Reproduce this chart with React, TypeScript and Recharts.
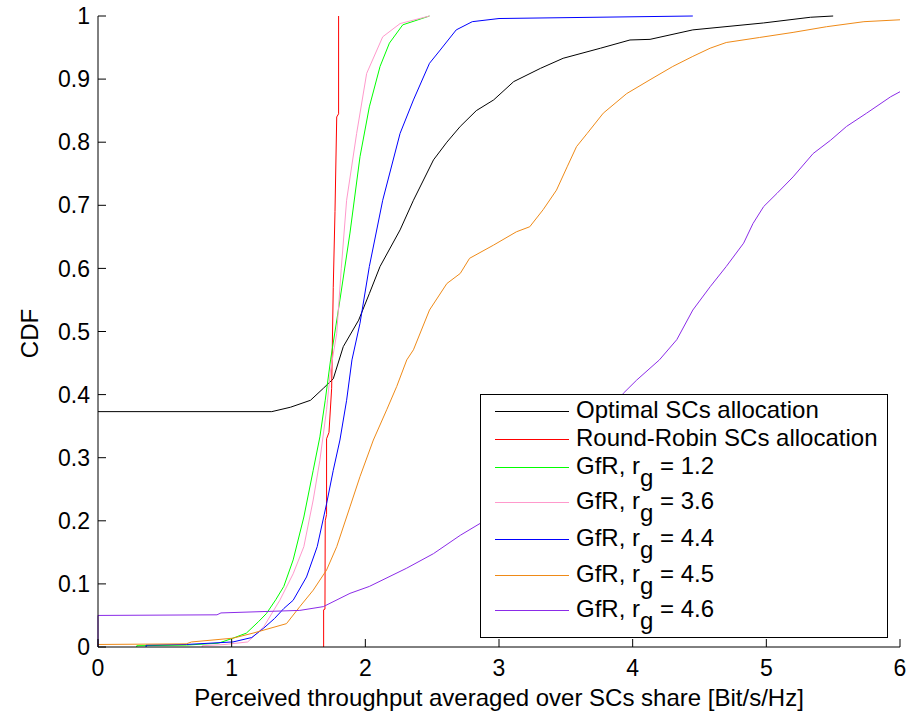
import { LineChart, Line, XAxis, YAxis, Legend } from 'recharts'

const FONT = '"Liberation Sans", Arial, Helvetica, sans-serif'

const xTicks = [0, 1, 2, 3, 4, 5, 6]
const yTicks = [0, 0.1, 0.2, 0.3, 0.4, 0.5, 0.6, 0.7, 0.8, 0.9, 1]

// [throughput, CDF] pairs
const optimal = [
  [0, 0.373], [1.3, 0.373], [1.44, 0.38], [1.59, 0.391], [1.686, 0.41], [1.76, 0.425], [1.835, 0.476],
  [1.95, 0.518], [2.03, 0.56], [2.11, 0.603], [2.26, 0.661], [2.36, 0.708], [2.51, 0.772], [2.61, 0.8],
  [2.71, 0.825], [2.83, 0.85], [2.96, 0.867], [3.11, 0.896], [3.31, 0.917], [3.48, 0.933], [3.76, 0.949],
  [3.98, 0.962], [4.13, 0.963], [4.45, 0.978], [4.98, 0.989], [5.33, 0.998], [5.5, 1],
]
const roundRobin = [
  [1.688, 0], [1.688, 0.059], [1.698, 0.06], [1.7, 0.2], [1.71, 0.21], [1.71, 0.33], [1.728, 0.34],
  [1.748, 0.41], [1.76, 0.57], [1.773, 0.69], [1.786, 0.84], [1.8, 0.845], [1.8, 1],
]
const gfr12 = [
  [0.29, 0], [0.29, 0.002], [0.66, 0.003], [0.9, 0.006], [1.01, 0.014], [1.11, 0.022], [1.2, 0.04],
  [1.26, 0.053], [1.33, 0.075], [1.39, 0.096], [1.46, 0.138], [1.54, 0.206], [1.61, 0.28], [1.66, 0.333],
  [1.7, 0.391], [1.74, 0.455], [1.81, 0.55], [1.885, 0.656], [1.96, 0.777], [2.03, 0.856], [2.11, 0.92],
  [2.18, 0.957], [2.28, 0.986], [2.48, 1],
]
const gfr36 = [
  [0.78, 0], [0.78, 0.002], [0.95, 0.004], [1.12, 0.008], [1.24, 0.032], [1.36, 0.074], [1.46, 0.116],
  [1.54, 0.159], [1.61, 0.233], [1.66, 0.296], [1.71, 0.376], [1.74, 0.439], [1.786, 0.497], [1.82, 0.6],
  [1.86, 0.708], [1.935, 0.814], [2.01, 0.909], [2.13, 0.967], [2.26, 0.988], [2.48, 1],
]
const gfr44 = [
  [0.36, 0], [0.36, 0.003], [0.66, 0.004], [1.01, 0.008], [1.15, 0.015], [1.24, 0.03], [1.32, 0.045],
  [1.39, 0.061], [1.46, 0.074], [1.56, 0.111], [1.64, 0.159], [1.71, 0.227], [1.76, 0.28], [1.81, 0.328],
  [1.86, 0.391], [1.9, 0.455], [1.96, 0.513], [2.03, 0.603], [2.13, 0.708], [2.26, 0.814], [2.36, 0.867],
  [2.48, 0.925], [2.56, 0.946], [2.68, 0.978], [2.8, 0.991], [3.0, 0.996], [4.45, 1],
]
const gfr45 = [
  [0, 0.004], [0.66, 0.005], [0.7, 0.008], [1.01, 0.014], [1.16, 0.022], [1.41, 0.037], [1.51, 0.064],
  [1.61, 0.09], [1.71, 0.122], [1.786, 0.159], [1.885, 0.222], [1.96, 0.27], [2.06, 0.328], [2.16, 0.376],
  [2.235, 0.413], [2.31, 0.455], [2.36, 0.471], [2.48, 0.534], [2.61, 0.576], [2.71, 0.592], [2.78, 0.616],
  [2.96, 0.637], [3.13, 0.658], [3.23, 0.666], [3.33, 0.693], [3.43, 0.724], [3.51, 0.761], [3.58, 0.793],
  [3.66, 0.814], [3.78, 0.846], [3.955, 0.877], [4.13, 0.899], [4.3, 0.92], [4.45, 0.936], [4.58, 0.949],
  [4.7, 0.958], [4.95, 0.966], [5.2, 0.974], [5.45, 0.983], [5.73, 0.991], [6.0, 0.994],
]
const gfr46 = [
  [0, 0], [0, 0.05], [0.89, 0.051], [0.92, 0.054], [1.51, 0.058], [1.686, 0.064], [1.885, 0.085],
  [2.03, 0.096], [2.31, 0.125], [2.51, 0.148], [2.71, 0.177], [2.86, 0.196], [3.2, 0.245], [3.5, 0.3],
  [3.75, 0.36], [3.93, 0.402], [4.03, 0.423], [4.2, 0.455], [4.33, 0.487], [4.45, 0.534], [4.58, 0.571],
  [4.7, 0.603], [4.83, 0.64], [4.9, 0.671], [4.98, 0.698], [5.08, 0.719], [5.2, 0.745], [5.35, 0.782],
  [5.48, 0.803], [5.6, 0.825], [5.75, 0.846], [5.93, 0.872], [6.0, 0.88],
]

const seriesData = [optimal, roundRobin, gfr12, gfr36, gfr44, gfr45, gfr46]
const names = [
  'Optimal SCs allocation', 'Round-Robin SCs allocation',
  'GfR, r_g = 1.2', 'GfR, r_g = 3.6', 'GfR, r_g = 4.4', 'GfR, r_g = 4.5', 'GfR, r_g = 4.6',
]
const colors = ['#000000', '#ff0000', '#00ff00', '#ff99cc', '#0000ff', '#ef8a17', '#8b2be8']

// vertical centre of each legend row, px from legend top
const rowMid = [15, 42.5, 71, 106, 142.5, 179, 214]

function LegendBox(props: any) {
  const payload = props.payload || []
  return (
    <div style={{
      position: 'relative', width: '100%', height: '100%', background: '#fff',
      border: '1.5px solid #000', boxSizing: 'border-box', fontFamily: FONT, fontSize: 24, color: '#000',
    }}>
      {payload.map((p: any) => {
        const i = names.indexOf(p.value)
        const [pre, post] = String(p.value).split('_g')
        return (
          <div key={p.value} style={{ position: 'absolute', left: 0, top: Math.round(rowMid[i] - 14), height: 28, lineHeight: '28px', whiteSpace: 'nowrap' }}>
            <svg width={80} height={28} style={{ position: 'absolute', left: 10, top: 0 }}>
              <line x1={4} x2={78} y1={15.5} y2={15.5} stroke={colors[i]} strokeWidth={1.2} />
            </svg>
            <span style={{ position: 'absolute', left: 95 }}>
              {pre}
              {post !== undefined && <span style={{ position: 'relative', top: 12 }}>g</span>}
              {post}
            </span>
          </div>
        )
      })}
    </div>
  )
}

const tickStyle = { fontFamily: FONT, fontSize: 23, fill: '#000' }

export default function App() {
  return (
    <div style={{ position: 'absolute', left: 0, top: 0, width: 916, height: 712, background: '#fff' }}>
      <LineChart width={916} height={712} margin={{ top: 16, right: 16, bottom: 0, left: 0 }}>
        <XAxis
          dataKey="x" type="number" domain={[0, 6]} ticks={xTicks} interval={0}
          height={65} tickSize={-8} tickMargin={21} stroke="#000" tick={tickStyle}
          tickLine={{ stroke: '#000' }} axisLine={{ stroke: '#000' }}
          label={{ value: 'Perceived throughput averaged over SCs share [Bit/s/Hz]', position: 'insideBottom', offset: 6, style: { fontFamily: FONT, fontSize: 24, fill: '#000' } }}
        />
        <XAxis
          xAxisId="top" orientation="top" type="number" domain={[0, 6]} ticks={xTicks} interval={0}
          height={0} tickSize={-8} tick={false} stroke="#000" axisLine={{ stroke: '#000' }}
        />
        <YAxis
          dataKey="y" type="number" domain={[0, 1]} ticks={yTicks} interval={0}
          width={98} tickSize={-8} tickMargin={16} stroke="#000" tick={tickStyle}
          tickLine={{ stroke: '#000' }} axisLine={{ stroke: '#000' }}
          label={(p: any) => (
            <text
              x={38} y={p.viewBox ? p.viewBox.y + p.viewBox.height / 2 + 2 : 333}
              transform={`rotate(-90, 38, ${p.viewBox ? p.viewBox.y + p.viewBox.height / 2 + 2 : 333})`}
              textAnchor="middle" style={{ fontFamily: FONT, fontSize: 24, fill: '#000' }}
            >CDF</text>
          )}
        />
        <YAxis
          yAxisId="right" orientation="right" type="number" domain={[0, 1]} ticks={yTicks} interval={0}
          width={0} tickSize={-8} tick={false} stroke="#000" axisLine={{ stroke: '#000' }}
        />
        {seriesData.map((pts, i) => (
          <Line
            key={names[i]}
            name={names[i]}
            data={pts.map(([x, y]) => ({ x, y }))}
            dataKey="y"
            type="linear"
            stroke={colors[i]}
            strokeWidth={1}
            dot={false}
            activeDot={false}
            isAnimationActive={false}
          />
        ))}
        <Legend
          layout="vertical" align="center" verticalAlign="middle"
          wrapperStyle={{ left: 480, top: 394, width: 408, height: 244 }}
          content={LegendBox}
        />
      </LineChart>
    </div>
  )
}
